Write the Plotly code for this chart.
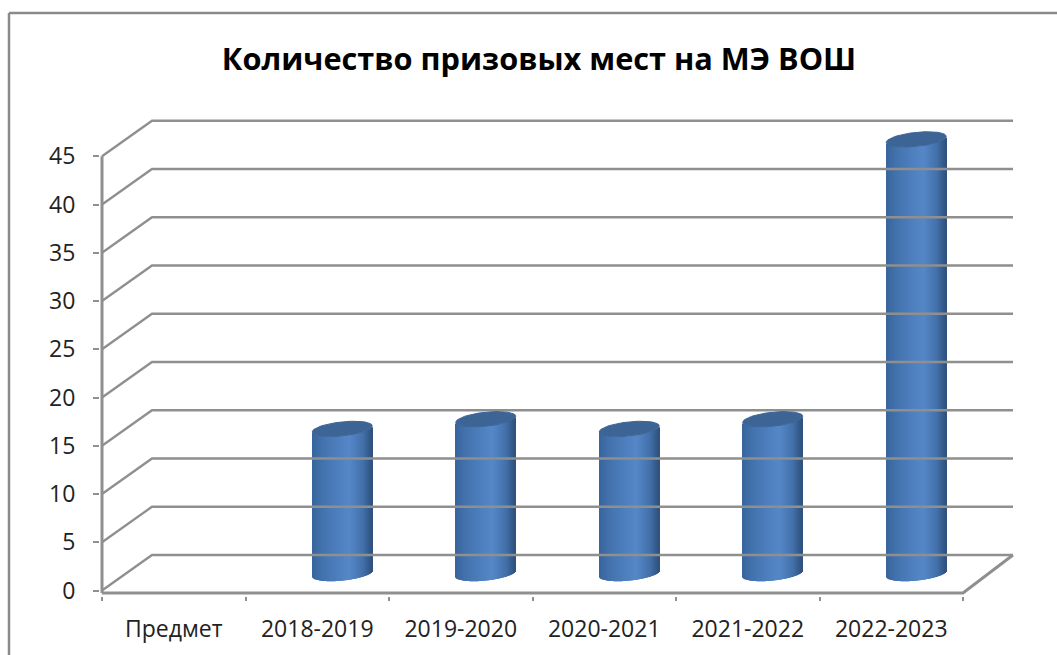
import math
import plotly.graph_objects as go

categories = ["Предмет", "2018-2019", "2019-2020", "2020-2021", "2021-2022", "2022-2023"]
values = [None, 15, 16, 15, 16, 45]
y_ticks = [0, 5, 10, 15, 20, 25, 30, 35, 40, 45]
title = "Количество призовых мест на МЭ ВОШ"

W, H = 1057, 655
# pixel frame of the plotting box: a little larger than the drawn walls, since lines clip to it
LEFT, RIGHT_PX, TOP_PX, BOTTOM_PX = 100, 1016, 117, 596
FRONT_X0, Y0_PX = 102, 590.5
X_UNIT, Y_UNIT = 143.5, 9.65
DEPTH_X, DEPTH_Y = 50 / X_UNIT, 35.5 / Y_UNIT
x0 = -0.5
x1 = x0 + len(categories)
x_back_end = x1 + DEPTH_X
x_range = [x0 - (FRONT_X0 - LEFT) / X_UNIT, x0 + (RIGHT_PX - FRONT_X0) / X_UNIT]
y_range = [-(BOTTOM_PX - Y0_PX) / Y_UNIT, (Y0_PX - TOP_PX) / Y_UNIT]
FLOOR = -2.5 / Y_UNIT

GRID = "#8f8f8f"
CYL_R = 30 / X_UNIT
CYL_B = 7 / Y_UNIT
CYL_TILT = 3 / Y_UNIT
CYL_SHIFT_X = 25 / X_UNIT
CYL_BASE = 1.75
STRIPS = 60
stops = [(0.0, (56, 100, 155)), (0.2, (68, 116, 176)), (0.62, (85, 135, 200)),
         (0.85, (66, 112, 170)), (1.0, (46, 80, 124))]


def shade(t):
    for (a, ca), (b, cb) in zip(stops, stops[1:]):
        if t <= b:
            f = (t - a) / (b - a)
            return "rgb(%d,%d,%d)" % tuple(round(p + (q - p) * f) for p, q in zip(ca, cb))
    return "rgb(46,80,124)"


def wall_line(xs, ys, width=2.3):
    fig.add_trace(go.Scatter(x=xs, y=ys, mode="lines",
                             line=dict(color=GRID, width=width),
                             hoverinfo="skip", showlegend=False))


fig = go.Figure()

# walls: gridlines, front axis line, floor edge
for v in y_ticks:
    wall_line([x0, x0 + DEPTH_X, x_back_end], [v, v + DEPTH_Y, v + DEPTH_Y])
wall_line([x0, x0], [y_ticks[-1], FLOOR], 3)
wall_line([x0, x1, x_back_end], [FLOOR, FLOOR, DEPTH_Y], 3)

# cylinders
for i, v in enumerate(values):
    if v is None:
        continue
    cx = i + CYL_SHIFT_X
    xs, bases, heights, widths, cols = [], [], [], [], []
    for s in range(STRIPS):
        t = (s + 0.5) / STRIPS
        u = 2 * t - 1
        depth = math.sqrt(max(0, 1 - u * u))
        xs.append(cx + u * CYL_R)
        low = CYL_BASE - CYL_B * depth + CYL_TILT * u
        high = CYL_BASE + v + CYL_TILT * u - CYL_B * depth
        bases.append(low)
        heights.append(high - low)
        widths.append(2 * CYL_R / STRIPS * 1.08)
        cols.append(shade(t))
    fig.add_trace(go.Bar(x=xs, y=heights, base=bases, width=widths,
                         marker=dict(color=cols, line=dict(width=0)),
                         hoverinfo="skip", showlegend=False))
    ex, ey = [], []
    for k in range(73):
        a = 2 * math.pi * k / 72
        ex.append(cx + CYL_R * math.cos(a))
        ey.append(CYL_BASE + v + CYL_TILT * math.cos(a) + CYL_B * math.sin(a))
    fig.add_trace(go.Scatter(x=ex, y=ey, mode="lines", fill="toself",
                             fillcolor="#3c6596", line=dict(color="#3c6596", width=1),
                             hoverinfo="skip", showlegend=False))

# chart-area border, running off the right and bottom of the picture
for (ax0, ay0, ax1, ay1) in [(9, 13, 9, H), (9, 13, W, 13)]:
    fig.add_shape(type="line", xref="paper", yref="paper",
                  x0=(ax0 - LEFT) / (RIGHT_PX - LEFT), x1=(ax1 - LEFT) / (RIGHT_PX - LEFT),
                  y0=(BOTTOM_PX - ay0) / (BOTTOM_PX - TOP_PX), y1=(BOTTOM_PX - ay1) / (BOTTOM_PX - TOP_PX),
                  line=dict(color="#8a8a8a", width=2.5))

fig.update_layout(
    width=W, height=H, autosize=False,
    margin=dict(l=LEFT, r=W - RIGHT_PX, t=TOP_PX, b=H - BOTTOM_PX, pad=0),
    paper_bgcolor="white", plot_bgcolor="white",
    barmode="overlay", showlegend=False,
    title=dict(text="<b>%s</b>" % title, x=539 / W, xref="container", xanchor="center",
               y=1 - 59 / H, yref="container", yanchor="middle",
               font=dict(family="Open Sans", size=30.7, color="black")),
    xaxis=dict(range=x_range, showgrid=False, zeroline=False, showline=False,
               tickmode="array", tickvals=list(range(len(categories))), ticktext=categories,
               ticks="outside", ticklen=12, tickcolor="rgba(0,0,0,0)",
               tickfont=dict(family="Open Sans", size=23, color="#222222"),
               minor=dict(tickmode="array", tickvals=[x0 + k for k in range(len(categories) + 1)],
                          ticks="outside", ticklen=4, tickwidth=2, tickcolor=GRID, showgrid=False)),
    yaxis=dict(range=y_range, showgrid=False, zeroline=False, showline=False,
               tickmode="array", tickvals=y_ticks,
               ticks="outside", ticklen=6, tickwidth=2, tickcolor=GRID, ticklabelstandoff=13,
               tickfont=dict(family="Open Sans", size=23, color="#222222")),
)

fig.write_html("out.html", config={"displayModeBar": False},
               post_script="document.body.style.margin='0';document.body.style.overflow='hidden';")
